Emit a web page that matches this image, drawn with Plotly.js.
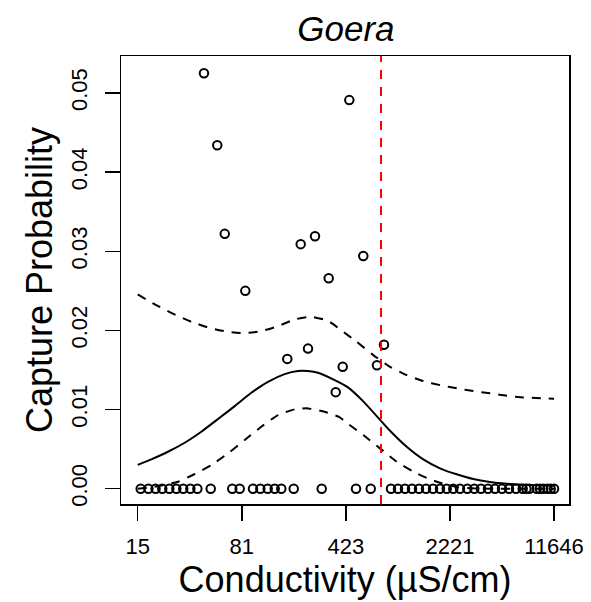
<!DOCTYPE html>
<html><head><meta charset="utf-8">
<script src="https://cdn.plot.ly/plotly-3.0.1.min.js"></script>
<style>html,body{margin:0;padding:0;background:#fff}</style>
</head><body>
<div id="chart" style="width:591px;height:602px"></div>
<script>
// Observed non-zero capture probabilities
const pointX = [44.1, 446.6, 54.5, 61.4, 205.9, 258.6, 558, 321.6, 85.2, 776, 231.3, 166.3, 402, 694, 359.6];
const pointY = [0.0525, 0.0491, 0.0434, 0.0322, 0.0309, 0.0319, 0.0294, 0.0266, 0.0250, 0.0182, 0.0177, 0.0164, 0.0154, 0.0156, 0.0122];
// Sites with zero captures
const zeroX = [16.1, 18.2, 20.4, 22.7, 25.4, 28.4, 31.7, 35.5, 39.7, 49.1, 69.2, 77.9, 96.3, 108.2, 121.7, 136.1, 151.1, 184.2, 287.7, 496.8, 628.0, 867.7, 970, 1084, 1212, 1355, 1515, 1694, 1894, 2107, 2340, 2604, 2926, 3271, 3638, 4068, 4548, 5084, 5684, 6356, 7069, 7500, 7857, 8837, 9300, 9817, 10500, 11045, 11646];
const zeroY = zeroX.map(() => 0);
// Fitted curve
const fitX = [15.35, 19.06, 24.86, 32.44, 42.27, 55.13, 71.94, 93.73, 122.3, 159.5, 197.2, 231.3, 271.3, 353.9, 437.4, 560, 854, 1114, 1451, 1894, 2471, 3218, 4200, 5480, 7139, 11646];
const fitY = [0.00302, 0.00371, 0.00467, 0.00581, 0.00720, 0.00880, 0.01044, 0.01212, 0.01351, 0.01448, 0.01486, 0.01486, 0.01465, 0.01372, 0.01280, 0.01100, 0.00732, 0.00530, 0.00371, 0.00258, 0.00182, 0.00122, 0.00085, 0.00063, 0.00051, 0.00038];
// Upper confidence band
const upX = [15.35, 19.58, 26.2, 36.06, 49.57, 64.68, 84.37, 109.9, 143.4, 187.2, 243.8, 318, 385, 502.3, 654.5, 854, 1114, 1451, 1894, 2471, 3218, 4200, 5480, 7139, 11646];
const upY = [0.02455, 0.02341, 0.02222, 0.02109, 0.02025, 0.01982, 0.01966, 0.01991, 0.02054, 0.02139, 0.02172, 0.02121, 0.02013, 0.01856, 0.01688, 0.01540, 0.01436, 0.01360, 0.01309, 0.01268, 0.01234, 0.01205, 0.01174, 0.01154, 0.01136];
// Lower confidence band
const loX = [15.35, 19.58, 22.35, 29.16, 38.05, 49.57, 64.68, 84.37, 109.9, 143.4, 187.2, 231.3, 301.8, 383.2, 428.4, 558, 728.1, 950.2, 1237, 1615, 1894, 2471, 3218, 4200, 11646];
const loY = [0, 0.00021, 0.0004, 0.00088, 0.00186, 0.00299, 0.00447, 0.00615, 0.00783, 0.00931, 0.01003, 0.01015, 0.00972, 0.00902, 0.00833, 0.00678, 0.00510, 0.00341, 0.00215, 0.00119, 0.00076, 0.00021, 0.00005, 0, 0];
// Threshold conductivity (vertical reference line)
const threshold = [740];
// Axis ticks
const xTickVals = [15.35, 80.6, 423, 2221, 11646];
const xTickLabels = ['15', '81', '423', '2221', '11646'];
const yTickVals = [0, 0.01, 0.02, 0.03, 0.04, 0.05];
const yTickLabels = ['0.00', '0.01', '0.02', '0.03', '0.04', '0.05'];

const FONT = '"Liberation Sans", Arial, Helvetica, sans-serif';
const dash = '9px,8px';
const markerStyle = {symbol: 'circle-open', size: 8.5, color: 'black', line: {width: 2, color: 'black'}};

const traces = [
  {x: fitX, y: fitY, mode: 'lines', line: {color: 'black', width: 2, shape: 'spline', smoothing: 0.6}, hoverinfo: 'skip'},
  {x: upX, y: upY, mode: 'lines', line: {color: 'black', width: 2, dash: dash, shape: 'spline', smoothing: 0.5}, hoverinfo: 'skip'},
  {x: loX, y: loY, mode: 'lines', line: {color: 'black', width: 2, dash: dash, shape: 'spline', smoothing: 0.5}, hoverinfo: 'skip'},
  {x: zeroX, y: zeroY, mode: 'markers', marker: markerStyle},
  {x: pointX, y: pointY, mode: 'markers', marker: markerStyle},
  {x: [threshold[0], threshold[0]], y: [0, 1], yaxis: 'y2', mode: 'lines', line: {color: 'red', width: 2, dash: dash}, hoverinfo: 'skip'}
];

const axisCommon = {
  showgrid: false, zeroline: false, showline: true, linecolor: 'black', linewidth: 1.5,
  mirror: true, ticks: 'outside', ticklen: 15, tickwidth: 1.5, tickcolor: 'black',
  tickfont: {family: FONT, size: 22, color: 'black'}
};

const layout = {
  width: 591, height: 602,
  margin: {l: 121, r: 22, t: 56, b: 98},
  paper_bgcolor: 'white', plot_bgcolor: 'white',
  showlegend: false,
  font: {family: FONT, color: 'black'},
  title: {text: '<i>Goera</i>', font: {family: FONT, size: 35, color: 'black'}, x: 0.502, xref: 'paper', xanchor: 'center', y: 0.952, yref: 'container', yanchor: 'middle'},
  xaxis: Object.assign({}, axisCommon, {
    type: 'log', range: [1.0705, 4.1697],
    tickmode: 'array', tickvals: xTickVals, ticktext: xTickLabels, ticklabelstandoff: 7,
    title: {text: 'Conductivity (µS/cm)', font: {family: FONT, size: 36, color: 'black'}, standoff: 6}
  }),
  yaxis: Object.assign({}, axisCommon, {
    range: [-0.00193, 0.05467],
    tickmode: 'array', tickvals: yTickVals, ticktext: yTickLabels, tickangle: -90, ticklabelstandoff: 9,
    title: {text: 'Capture Probability', font: {family: FONT, size: 36, color: 'black'}, standoff: 3}
  }),
  yaxis2: {overlaying: 'y', range: [0, 1], visible: false, fixedrange: true}
};

Plotly.newPlot('chart', traces, layout, {displayModeBar: false, staticPlot: true});
</script>
</body></html>
